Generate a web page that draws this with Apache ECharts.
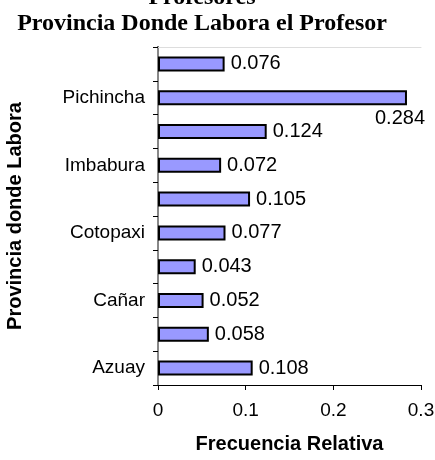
<!DOCTYPE html>
<html>
<head>
<meta charset="utf-8">
<script src="https://cdn.jsdelivr.net/npm/echarts@6/dist/echarts.min.js"></script>
<style>html,body{margin:0;padding:0;background:#fff}#c{width:435px;height:460px}</style>
</head>
<body>
<div id="c"></div>
<script>
// Categories bottom to top
var categories = ['Azuay', 'Bolívar', 'Cañar', 'Carchi', 'Cotopaxi', 'El Oro', 'Imbabura', 'Loja', 'Pichincha', 'Tungurahua'];
var frecuencia = [0.108, 0.058, 0.052, 0.043, 0.077, 0.105, 0.072, 0.124, 0.284, 0.076];
var xTicks = [0, 0.1, 0.2, 0.3];
var titleLines = ['Profesores', 'Provincia Donde Labora el Profesor'];
var yName = 'Provincia donde Labora';
var xName = 'Frecuencia Relativa';

var chart = echarts.init(document.getElementById('c'), null, {renderer: 'canvas'});
var sans = '"Liberation Sans", Arial, sans-serif';
var serif = '"Liberation Serif", "Times New Roman", serif';

var seriesData = frecuencia.map(function (v, i) {
  var item = {value: v};
  if (categories[i] === 'Pichincha') {
    item.label = {offset: [-38, 21]};
  }
  return item;
});

chart.setOption({
  animation: false,
  backgroundColor: '#fff',
  title: {
    text: titleLines.join('\n'),
    left: 197,
    top: -20,
    textAlign: 'center',
    textStyle: {
      fontFamily: serif, fontWeight: 'bold', fontSize: 24, color: '#000',
      lineHeight: 26, align: 'center'
    }
  },
  grid: {left: 158, right: 14, top: 47, bottom: 75, containLabel: false, outerBoundsMode: 'none'},
  xAxis: [{
    type: 'value', min: xTicks[0], max: xTicks[xTicks.length - 1], interval: 0.1,
    name: xName, nameLocation: 'middle', nameGap: 49,
    nameTextStyle: {fontFamily: sans, fontWeight: 'bold', fontSize: 20, color: '#000'},
    axisLine: {show: true, lineStyle: {color: '#000', width: 1}},
    axisTick: {show: true, inside: false, length: 5, lineStyle: {color: '#000'}},
    axisLabel: {fontFamily: sans, fontSize: 19, color: '#000', margin: 16,
      formatter: function (v) { return String(Math.round(v * 10) / 10); }},
    splitLine: {show: false}
  }, {
    type: 'value', position: 'top', min: 0, max: 0.3,
    axisLine: {show: true, lineStyle: {color: '#ddd', width: 1}},
    axisTick: {show: false}, axisLabel: {show: false}, splitLine: {show: false}
  }],
  yAxis: [{
    type: 'category', data: categories,
    name: yName, nameLocation: 'middle', nameGap: 133, nameRotate: 90,
    nameTextStyle: {fontFamily: sans, fontWeight: 'bold', fontSize: 20, color: '#000'},
    axisLine: {show: true, lineStyle: {color: '#000', width: 2}},
    axisTick: {show: true, inside: false, length: 5, interval: 0, alignWithLabel: false, lineStyle: {color: '#000'}},
    axisLabel: {fontFamily: sans, fontSize: 19, color: '#000', margin: 13, interval: 1}
  }, {
    type: 'category', data: categories, position: 'right',
    axisLine: {show: true, lineStyle: {color: '#888', width: 2}},
    axisTick: {show: false}, axisLabel: {show: false}
  }],
  series: [{
    type: 'bar',
    data: seriesData,
    barWidth: 15,
    itemStyle: {color: '#9999FF', borderColor: '#000', borderWidth: 2},
    label: {
      show: true, position: 'right', distance: 6,
      fontFamily: sans, fontSize: 20, color: '#000',
      formatter: function (p) { return p.value.toFixed(3); }
    }
  }]
});
</script>
</body>
</html>
